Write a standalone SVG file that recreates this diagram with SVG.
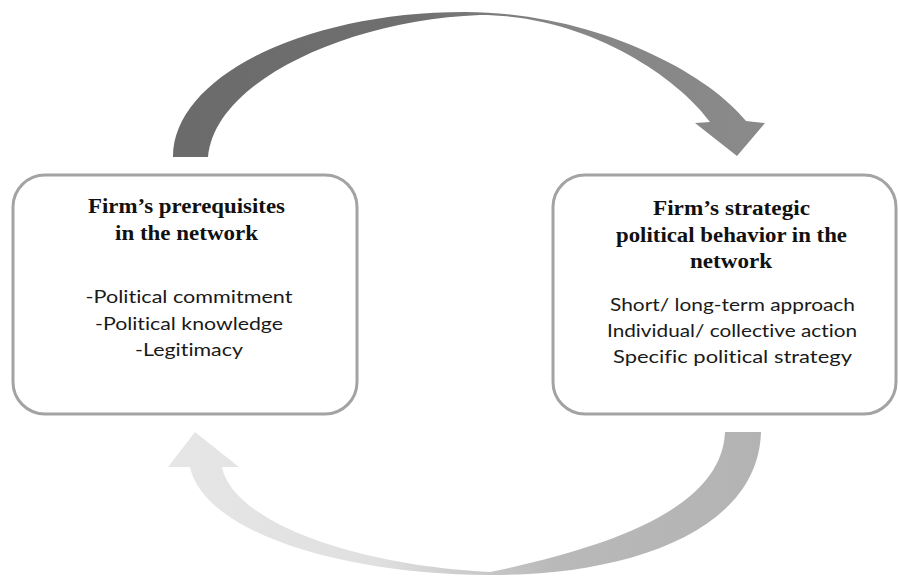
<svg xmlns="http://www.w3.org/2000/svg" width="898" height="576" viewBox="0 0 898 576">
  <style>
    .box { fill: #ffffff; stroke: #a3a3a3; stroke-width: 3; }
    .title { font-family: "Liberation Serif", "Times New Roman", serif; font-weight: bold; font-size: 20.5px; fill: #111111; text-anchor: middle; }
    .body { font-family: Lato, "Open Sans", "Liberation Sans", sans-serif; font-size: 16.5px; fill: #1a1a1a; text-anchor: middle; font-variant-ligatures: none; }
  </style>
  <defs>
    <linearGradient id="gTop" gradientUnits="userSpaceOnUse" x1="173" y1="0" x2="765" y2="0">
      <stop offset="0" stop-color="#6b6b6b"/>
      <stop offset="0.4" stop-color="#6f6f6f"/>
      <stop offset="0.65" stop-color="#858585"/>
      <stop offset="1" stop-color="#8a8a8a"/>
    </linearGradient>
    <linearGradient id="gBot" gradientUnits="userSpaceOnUse" x1="168" y1="0" x2="761" y2="0">
      <stop offset="0" stop-color="#e6e6e6"/>
      <stop offset="0.35" stop-color="#e0e0e0"/>
      <stop offset="0.65" stop-color="#b9b9b9"/>
      <stop offset="1" stop-color="#b3b3b3"/>
    </linearGradient>
  </defs>

  <g id="connectors">
    <path id="arrow-top" fill="url(#gTop)" d="M173,157 C173,77 304,12 465,12 C590,12 705,70 746,121 L765,123 L737,156 L695,123 L710,122 C680,80 590,15 480,15 C350,20 215,80 208,157 Z"/>
    <path id="arrow-bottom" fill="url(#gBot)" d="M761,432 C758,535 620,576 490,575 C350,575 205,535 190,467 L239,467 L195,432 L168,467 L222,467 C232,520 350,565 490,572 C620,545 722,505 725,432 Z"/>
  </g>

  <g id="node-prerequisites">
    <rect class="box" x="13" y="175" width="344" height="239" rx="32" ry="32"/>
    <text class="title" x="186.5" y="213" textLength="197" lengthAdjust="spacingAndGlyphs">Firm’s prerequisites</text>
    <text class="title" x="186.5" y="240" textLength="143" lengthAdjust="spacingAndGlyphs">in the network</text>
    <text class="body" x="189" y="303" textLength="207" lengthAdjust="spacingAndGlyphs">-Political commitment</text>
    <text class="body" x="189" y="330" textLength="188" lengthAdjust="spacingAndGlyphs">-Political knowledge</text>
    <text class="body" x="189" y="356" textLength="108" lengthAdjust="spacingAndGlyphs">-Legitimacy</text>
  </g>

  <g id="node-behavior">
    <rect class="box" x="553" y="175" width="343" height="239" rx="32" ry="32"/>
    <text class="title" x="731.5" y="215" textLength="157" lengthAdjust="spacingAndGlyphs">Firm’s strategic</text>
    <text class="title" x="731.5" y="242" textLength="231" lengthAdjust="spacingAndGlyphs">political behavior in the</text>
    <text class="title" x="731" y="268" textLength="82" lengthAdjust="spacingAndGlyphs">network</text>
    <text class="body" x="732.5" y="311" textLength="245" lengthAdjust="spacingAndGlyphs">Short/ long-term approach</text>
    <text class="body" x="732" y="337" textLength="250" lengthAdjust="spacingAndGlyphs">Individual/ collective action</text>
    <text class="body" x="732.5" y="363" textLength="239" lengthAdjust="spacingAndGlyphs">Specific political strategy</text>
  </g>
</svg>
